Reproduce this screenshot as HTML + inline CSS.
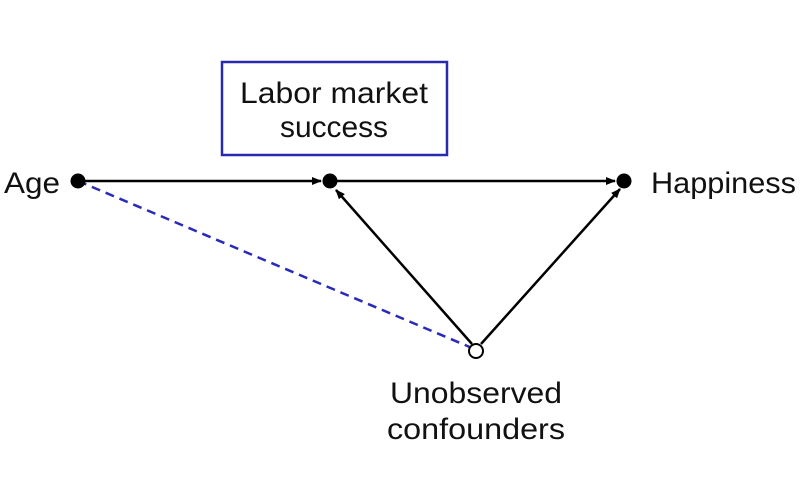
<!DOCTYPE html>
<html><head><style>
html,body{margin:0;padding:0;background:#fff;}
svg{display:block;}
text{font-family:"Liberation Sans",sans-serif;fill:#111;font-size:30px;}
</style></head><body>
<svg width="800" height="500" viewBox="0 0 800 500">
<defs>
<marker id="a" markerWidth="10" markerHeight="10" refX="9" refY="5" orient="auto" markerUnits="userSpaceOnUse">
<path d="M0,1 L10,5 L0,9 z" fill="#000"/>
</marker>
</defs>
<rect x="222" y="62" width="225" height="93" fill="#fff" stroke="#2a2ab0" stroke-width="2.5"/>
<text x="334" y="103" text-anchor="middle" textLength="188" lengthAdjust="spacingAndGlyphs">Labor market</text>
<text x="334" y="137" text-anchor="middle" textLength="108" lengthAdjust="spacingAndGlyphs">success</text>
<line x1="78" y1="181" x2="472" y2="348" stroke="#2a2ab8" stroke-width="2.5" stroke-dasharray="9,6"/>
<line x1="78" y1="181" x2="321" y2="181" stroke="#000" stroke-width="2.5" marker-end="url(#a)"/>
<line x1="330" y1="181" x2="615" y2="181" stroke="#000" stroke-width="2.5" marker-end="url(#a)"/>
<line x1="472" y1="344" x2="336" y2="190" stroke="#000" stroke-width="2.5" marker-end="url(#a)"/>
<line x1="481" y1="344" x2="620" y2="189" stroke="#000" stroke-width="2.5" marker-end="url(#a)"/>
<circle cx="78" cy="181" r="7.5" fill="#000"/>
<circle cx="330" cy="181" r="7.5" fill="#000"/>
<circle cx="624" cy="181" r="7.5" fill="#000"/>
<circle cx="476" cy="351" r="7" fill="#fff" stroke="#000" stroke-width="2"/>
<text x="4" y="193" textLength="56" lengthAdjust="spacingAndGlyphs">Age</text>
<text x="651" y="193" textLength="145" lengthAdjust="spacingAndGlyphs">Happiness</text>
<text x="476" y="403" text-anchor="middle" textLength="172" lengthAdjust="spacingAndGlyphs">Unobserved</text>
<text x="476" y="439" text-anchor="middle" textLength="178" lengthAdjust="spacingAndGlyphs">confounders</text>
</svg>
</body></html>
